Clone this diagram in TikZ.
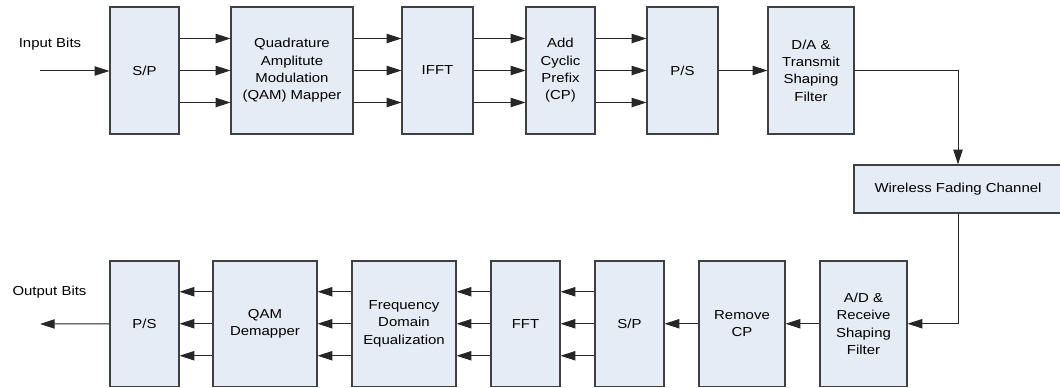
\documentclass[tikz,border=0pt]{standalone}
\usepackage{fontspec}
\setmainfont{Liberation Sans}[FakeStretch=1.15]
\usetikzlibrary{calc,arrows.meta}
\definecolor{boxfill}{RGB}{230,236,246}
\definecolor{boxline}{RGB}{64,64,64}
\tikzset{
  blk/.style={draw=boxline, fill=boxfill, line width=0.9pt, inner sep=0pt,
    align=center, font=\fontsize{9.75}{13}\selectfont},
  sz/.style 2 args={minimum width=#1*0.75pt, minimum height=#2*0.75pt},
  txrow/.style={blk, sz={#1}{127}},
  rxrow/.style={blk, sz={#1}{125.5}},
  lbl/.style={font=\fontsize{9.75}{13}\selectfont, inner sep=0pt},
  flow/.style={line width=0.75pt, draw=black!85,
    -{Triangle[length=11pt,width=7pt]}}
}
\begin{document}
\begin{tikzpicture}[x=0.75pt, y=-0.75pt]
\useasboundingbox (0,0) rectangle (1060,388);
\begin{scope}
\clip (0,0) rectangle (1060,388);
% transmitter chain
\node[txrow=69]  (sp1)  at (144.5,70.5) {S/P};
\node[txrow=122] (qam)  at (292,70.5)   {Quadrature\\Amplitute\\Modulation\\(QAM) Mapper};
\node[txrow=71]  (ifft) at (437.5,70.5) {IFFT};
\node[txrow=69]  (acp)  at (560.5,70.5) {Add\\Cyclic\\Prefix\\(CP)};
\node[txrow=71]  (ps1)  at (682.5,70.5) {P/S};
\node[txrow=86]  (da)   at (811,70.5)   {D/A \&\\Transmit\\Shaping\\Filter};
% channel
\node[blk, sz={208}{48}] (chan) at (958,189) {Wireless Fading Channel};
% receiver chain
\node[rxrow=69]  (ps2)  at (144.5,323.75) {P/S};
\node[rxrow=104] (qamd) at (265,323.75)   {QAM\\Demapper};
\node[rxrow=104] (feq)  at (404,323.75)   {Frequency\\Domain\\Equalization};
\node[rxrow=69]  (fft)  at (525.5,323.75) {FFT};
\node[rxrow=69]  (sp2)  at (629.5,323.75) {S/P};
\node[rxrow=86]  (rcp)  at (742,323.75)   {Remove\\CP};
\node[rxrow=87]  (ad)   at (863.5,323.75) {A/D \&\\Receive\\Shaping\\Filter};
\end{scope}

% end labels
\node[lbl] (inlbl) at (50,44.5) {Input Bits};
\node[lbl] (outlbl) at (49.5,292) {Output Bits};
\coordinate (inpt) at (40,71);
\coordinate (outpt) at (40,324);

% transmitter connections
\draw[flow] (inpt) -- (inpt -| sp1.west);
\foreach \a/\b in {sp1/qam, qam/ifft, ifft/acp, acp/ps1}{
  \foreach \d in {-32,0,32}{
    \draw[flow] ($(\a.east)+(0,\d)$) -- ($(\b.west)+(0,\d)$);
  }
}
\draw[flow] (ps1.east) -- (da.west);
\draw[flow] (da.east) -| (chan.north);

% receiver connections
\draw[flow] (chan.south) |- (ad.east);
\draw[flow] (ad.west) -- (rcp.east);
\draw[flow] (rcp.west) -- (sp2.east);
\foreach \a/\b in {sp2/fft, fft/feq, feq/qamd, qamd/ps2}{
  \foreach \d in {-32,0,32}{
    \draw[flow] ($(\a.west)+(0,\d)$) -- ($(\b.east)+(0,\d)$);
  }
}
\draw[flow] (ps2.west) -- (outpt);
\end{tikzpicture}
\end{document}
